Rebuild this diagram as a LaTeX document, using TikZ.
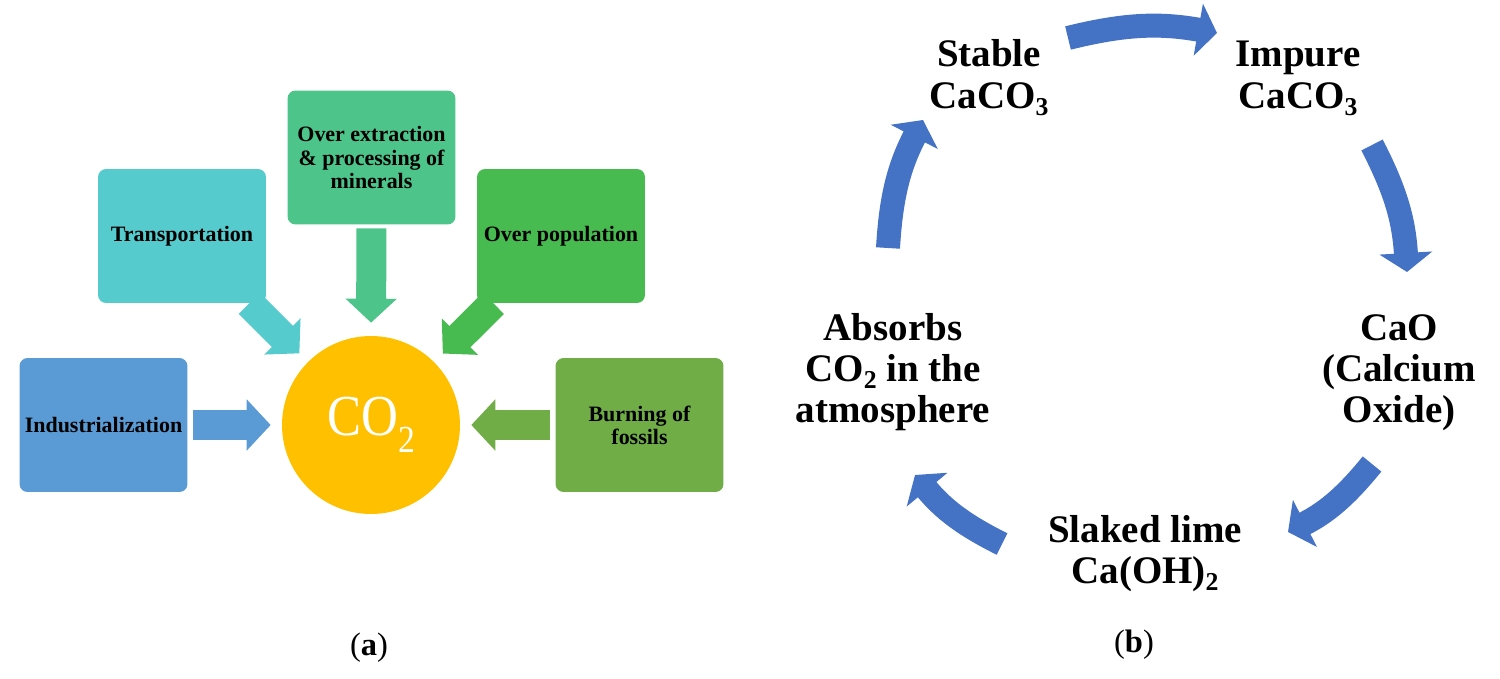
\documentclass[tikz,border=0pt]{standalone}
\usepackage{fontspec}
\setmainfont{Liberation Serif}
\usepackage{graphicx}
\usetikzlibrary{arrows.meta,backgrounds}
\definecolor{cInd}{HTML}{5B9BD5}
\definecolor{cTra}{HTML}{55CBCD}
\definecolor{cExt}{HTML}{4CC48A}
\definecolor{cPop}{HTML}{48BB50}
\definecolor{cBur}{HTML}{70AD47}
\definecolor{cCO}{HTML}{FFC000}
\definecolor{cCyc}{HTML}{4472C4}
\newcommand{\csub}[1]{\smash{\raisebox{-0.2em}{\scalebox{0.66}{#1}}}}
\newcommand{\lbl}[1]{\begin{tabular}[t]{@{}c@{}}#1\end{tabular}}
\newcommand{\boxfont}{\fontsize{12.5}{13.1}\selectfont\bfseries}
\newcommand{\cycfont}{\fontsize{22.2}{23.4}\selectfont\bfseries}
\begin{document}
\begin{tikzpicture}[x=0.02cm,y=0.02cm,
  srcbox/.style={shape=rectangle, rounded corners=0.16cm, minimum width=3.36cm,
    minimum height=2.68cm, inner sep=2pt, align=center, font=\boxfont, text=black},
  blk/.style={line width=0.6cm, -{Triangle[width=1.0cm,length=0.48cm]}},
  cyclbl/.style={anchor=base, inner sep=0pt, font=\cycfont},
  cycarr/.style={draw=cCyc, line width=0.48cm, -{Triangle[width=1.04cm,length=0.38cm]}}]
\useasboundingbox (0,-679) rectangle (1500,0);
% ---------- panel (a)
\node[srcbox, fill=cInd] (ind) at (103.5,-425) {Industrialization};
\node[srcbox, fill=cTra] (tra) at (182,-236) {Transportation};
\node[srcbox, fill=cExt] (ext) at (371.5,-157.5) {Over extraction\\ \& processing of\\ minerals};
\node[srcbox, fill=cPop] (pop) at (561,-236) {Over population};
\node[srcbox, fill=cBur] (bur) at (639.5,-425) {Burning of\\ fossils};
\node[circle, fill=cCO, minimum size=3.56cm, inner sep=0pt, text=white,
  font=\fontsize{33}{33}\selectfont] (co2) at (371,-425)
  {\scalebox{0.88}[1]{CO\raisebox{-0.3em}{\scalebox{0.66}{2}}}};
\begin{pgfonlayer}{background}
\draw[blk, cInd, shorten <=0.11cm, shorten >=0.22cm] (ind.east) -- (co2.west);
\draw[blk, cBur, shorten <=0.11cm, shorten >=0.22cm] (bur.west) -- (co2.east);
\draw[blk, cExt, shorten <=0.07cm, shorten >=0.26cm] (ext.south) -- (co2.north);
\draw[blk, cTra, shorten >=0.24cm] (tra) -- (co2);
\draw[blk, cPop, shorten >=0.24cm] (pop) -- (co2);
\end{pgfonlayer}
\node[anchor=base, font=\fontsize{18.5}{18.5}\selectfont] (la) at (369,-655) {(\textbf{a})};
% ---------- panel (b)
\node[cyclbl] (stab) at (989,-67) {\lbl{Stable\\ CaCO\csub{3}}};
\node[cyclbl] (imp) at (1298,-67) {\lbl{Impure\\ CaCO\csub{3}}};
\node[cyclbl] (cao) at (1399,-340) {\lbl{CaO\\ (Calcium\\ Oxide)}};
\node[cyclbl] (slak) at (1145,-542) {\lbl{Slaked lime\\ Ca(OH)\csub{2}}};
\node[cyclbl] (abs) at (893,-340) {\lbl{Absorbs\\ CO\csub{2} in the\\ atmosphere}};
\coordinate (a1t) at (1068,-38);  \coordinate (a1h) at (1217,-33);
\coordinate (a2t) at (1372,-145); \coordinate (a2h) at (1407,-272);
\coordinate (a3t) at (1372,-464); \coordinate (a3h) at (1288,-532);
\coordinate (a4t) at (1002,-544); \coordinate (a4h) at (915,-475);
\coordinate (a5t) at (888,-248);  \coordinate (a5h) at (923,-120);
\draw[cycarr] (a1t) to[bend left=12] (a1h);
\draw[cycarr] (a2t) to[bend left=12] (a2h);
\draw[cycarr] (a3t) to[bend left=12] (a3h);
\draw[cycarr] (a4t) to[bend left=12] (a4h);
\draw[cycarr] (a5t) to[bend left=12] (a5h);
\node[anchor=base, font=\fontsize{18.5}{18.5}\selectfont] (lb) at (1134,-652) {(\textbf{b})};
\end{tikzpicture}
\end{document}
